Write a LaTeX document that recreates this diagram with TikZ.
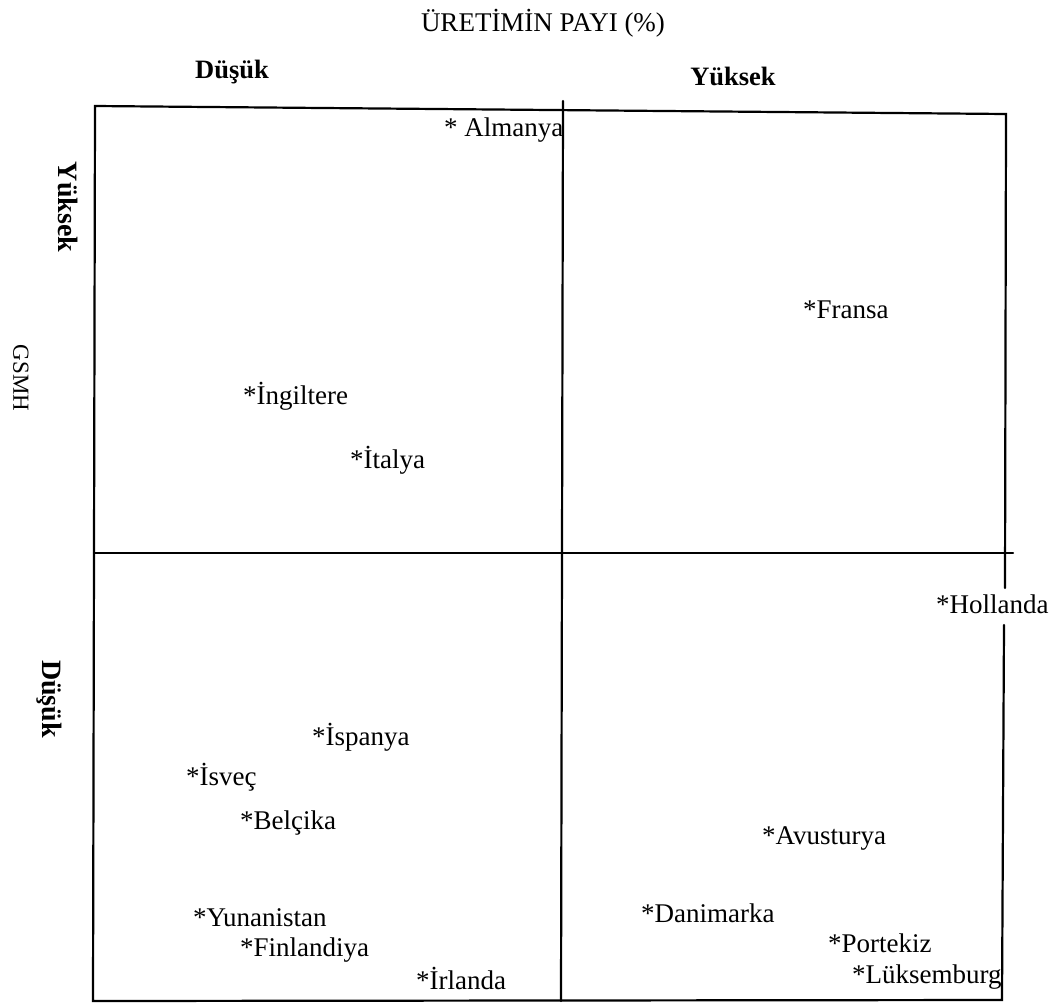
\documentclass[tikz,border=0pt]{standalone}
\usepackage{fontspec}
\setmainfont{Liberation Serif}
\begin{document}
\begin{tikzpicture}[x=1pt,y=-1pt,
  frame/.style={line width=2.2pt,line cap=round},
  country/.style={anchor=west,inner sep=0pt,font=\fontsize{27}{32}\selectfont},
  colhead/.style={inner sep=0pt,font=\fontsize{26.5}{30}\selectfont\bfseries},
  rowhead/.style={inner sep=0pt,rotate=-90,font=\fontsize{28}{30}\selectfont\bfseries},
  axistitle/.style={inner sep=0pt,font=\fontsize{27}{32}\selectfont}]
\useasboundingbox (0,0) rectangle (1052,1004);

% axis titles
\node[axistitle] (xtitle) at (543,23) {ÜRETİMİN PAYI (\%)};
\node[axistitle,rotate=-90,font=\fontsize{23}{28}\selectfont] (ytitle) at (21,378) {GSMH};

% column and row headings
\node[colhead] (colLow) at (232,72) {Düşük};
\node[colhead] (colHigh) at (733,76) {Yüksek};
\node[rowhead] (rowHigh) at (68,207) {Yüksek};
\node[rowhead] (rowLow) at (49,699) {Düşük};

% frame corners
\coordinate (tl) at (95,106);
\coordinate (tr) at (1006,114);
\coordinate (bl) at (93,1001);
\coordinate (br) at (1002,1000);
\coordinate (vtop) at (563,101);
\coordinate (vbot) at (561,1001);
\coordinate (hleft) at (94,553);
\coordinate (hright) at (1013,553);
\coordinate (gapTop) at (1005,588);
\coordinate (gapBot) at (1004,625);

% outer frame, with the right side broken around Hollanda
\draw[frame] (gapTop) -- (tr) -- (tl) -- (bl) -- (br) -- (gapBot);
% quadrant dividers
\draw[frame] (vtop) -- (vbot);
\draw[frame] (hleft) -- (hright);

% countries
\node[country] (almanya) at (444,130) {* Almanya};
\node[country] (fransa) at (803,310) {*Fransa};
\node[country] (ingiltere) at (243,396) {*İngiltere};
\node[country] (italya) at (350,460) {*İtalya};
\node[country] (hollanda) at (936,604) {*Hollanda};
\node[country] (ispanya) at (312,737) {*İspanya};
\node[country] (isvec) at (186,777) {*İsveç};
\node[country] (belcika) at (240,823) {*Belçika};
\node[country] (avusturya) at (762,838) {*Avusturya};
\node[country] (danimarka) at (641,913) {*Danimarka};
\node[country] (yunanistan) at (193,918) {*Yunanistan};
\node[country] (finlandiya) at (240,950) {*Finlandiya};
\node[country] (portekiz) at (828,943) {*Portekiz};
\node[country] (luksemburg) at (852,977) {*Lüksemburg};
\node[country] (irlanda) at (416,978) {*İrlanda};
\end{tikzpicture}
\end{document}
